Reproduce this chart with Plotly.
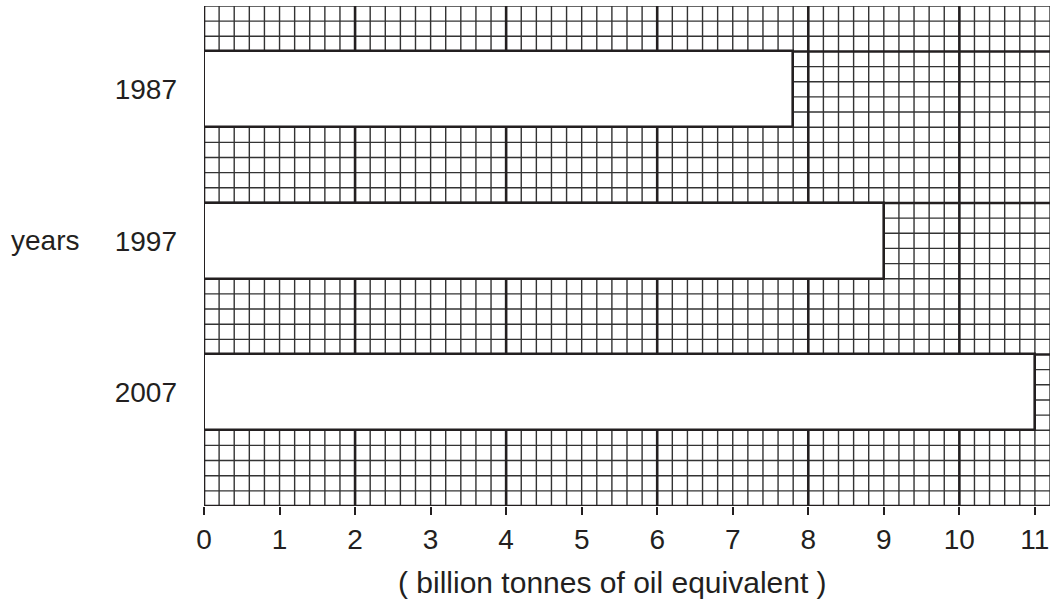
import plotly.graph_objects as go

# ---- data ----
years = ["1987", "1997", "2007"]
energy = [7.8, 9, 11]          # billion tonnes of oil equivalent
x_tick_values = list(range(0, 12))
x_tick_labels = [str(v) for v in x_tick_values]

# ---- layout helpers (positions / styling) ----
X_MAX = 11.2
Y_MAX = 6.6
bar_pos = [5.5, 3.5, 1.5]       # vertical slot of each year (top to bottom)
INK = "#231f20"
FONT = "Liberation Sans, Arial, sans-serif"

fig = go.Figure()
fig.add_trace(go.Bar(
    y=bar_pos, x=energy, orientation="h", width=1.0,
    marker=dict(color="white", line=dict(color=INK, width=2.6)),
    hoverinfo="skip", showlegend=False,
))

shapes = []
def vline(x, w, c):
    shapes.append(dict(type="line", xref="x", yref="y", x0=x, x1=x, y0=0, y1=Y_MAX,
                       line=dict(color=c, width=w), layer="below"))
def hline(y, w, c):
    shapes.append(dict(type="line", xref="x", yref="y", y0=y, y1=y, x0=0, x1=X_MAX,
                       line=dict(color=c, width=w), layer="below"))

n_x = int(round(X_MAX / 0.2))
for i in range(n_x + 1):
    if i % 10 == 0:
        continue
    vline(round(i * 0.2, 6), 1.4, "#333333")
n_y = int(round(Y_MAX / 0.2))
for i in range(n_y + 1):
    if i % 10 == 0:
        continue
    hline(round(i * 0.2, 6), 1.4, "#333333")
for i in range(0, n_x + 1, 10):
    vline(round(i * 0.2, 6), 2.6, INK)
for i in range(0, n_y + 1, 10):
    hline(round(i * 0.2, 6), 2.6, INK)

fig.update_layout(
    width=1054, height=603,
    margin=dict(l=204, r=4, t=6, b=97),
    paper_bgcolor="white", plot_bgcolor="white",
    font=dict(family=FONT, size=28, color=INK),
    shapes=shapes,
    bargap=0,
    xaxis=dict(range=[0, X_MAX], tickmode="array", tickvals=x_tick_values, ticktext=x_tick_labels,
               showgrid=False, zeroline=False, showline=False,
               ticks="outside", ticklen=8, tickwidth=1.5, tickcolor=INK,
               tickfont=dict(size=28, color=INK)),
    yaxis=dict(range=[0, Y_MAX], tickmode="array", tickvals=bar_pos, ticktext=years,
               showgrid=False, zeroline=False, showline=False, ticks="",
               ticklabelstandoff=26, tickfont=dict(size=28, color=INK)),
    annotations=[
        dict(text="years", xref="paper", yref="y", x=(9 - 204) / 846, y=3.5,
             xanchor="left", yanchor="middle", showarrow=False,
             font=dict(size=28, color=INK)),
        dict(text="( billion tonnes of oil equivalent )", xref="paper", yref="paper",
             x=(612.5 - 204) / 846, y=(506 - 582) / 500,
             xanchor="center", yanchor="middle", showarrow=False,
             font=dict(size=30, color=INK)),
    ],
)

fig.write_html("out.html", config={"displayModeBar": False},
               post_script="document.body.style.margin='0px';document.body.style.overflow='hidden';")
